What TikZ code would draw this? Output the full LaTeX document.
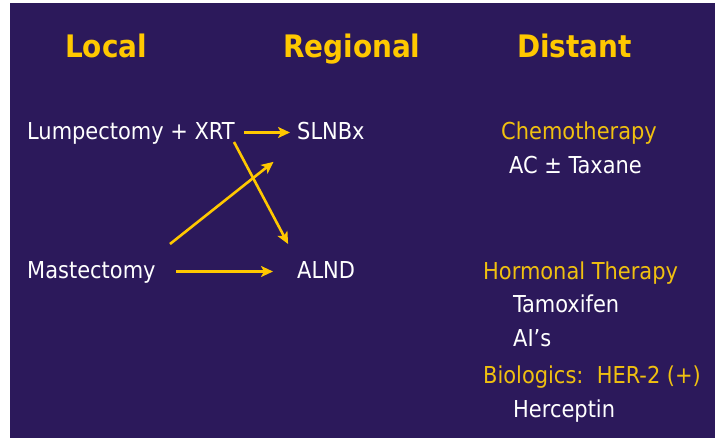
\documentclass[tikz,border=0pt]{standalone}
\usepackage{fontspec}
\setmainfont{DejaVu Sans Condensed}
\newfontfamily\headfont{DejaVu Sans Condensed Bold}
\usetikzlibrary{arrows.meta}
\definecolor{slidebg}{HTML}{2C195B}
\definecolor{slidegold}{HTML}{FFC800}
\definecolor{textgold}{HTML}{F0C010}
\tikzset{
	headtext/.style={anchor=base west, inner sep=0pt, font=\headfont\fontsize{31}{31}\selectfont, text=slidegold},
	bodytext/.style={anchor=base west, inner sep=0pt, text height=17pt, text depth=4pt, font=\fontsize{23.3}{23.3}\selectfont, text=white},
	goldtext/.style={bodytext, text=textgold},
	arr/.style={-{Stealth[length=12pt,width=11pt,inset=3pt]}, line width=2.6pt, draw=slidegold}
}

\begin{document}
\begin{tikzpicture}[x=1pt,y=-1pt]
      \useasboundingbox (0,0) rectangle (716,439);
      \fill[white] (0,0) rectangle (716,439);
      \fill[slidebg] (10,3) rectangle (715,438);
      % column heads
      \node[headtext] (local) at (65,57) {Local};
      \node[headtext] (regional) at (283,57) {Regional};
      \node[headtext] (distant) at (517,57) {Distant};
      % local and regional
      \node[bodytext] (lump) at (27,139) {Lumpectomy + XRT};
      \node[bodytext] (slnb) at (297,139) {SLNBx};
      \node[bodytext] (mast) at (27,278) {Mastectomy};
      \node[bodytext] (alnd) at (297,278) {ALND};
      % distant
      \node[goldtext] (chemo) at (501,139) {Chemotherapy};
      \node[bodytext] (actax) at (509,173) {AC ± Taxane};
      \node[goldtext] (hormo) at (483,279) {Hormonal Therapy};
      \node[bodytext] (tamox) at (513,312) {Tamoxifen};
      \node[bodytext] (ais) at (513,346) {AI’s};
      \node[goldtext] (biolog) at (483,383) {Biologics:\ \ HER-2 (+)};
      \node[bodytext] (hercep) at (513,417) {Herceptin};
      % arrows
      \coordinate (xrtfoot) at (234,142);
      \coordinate (mastrise) at (170,244);
      \draw[arr, shorten <=9pt, shorten >=7pt] (lump.east) -- (slnb.west);
      \draw[arr, shorten >=19pt] (xrtfoot) -- (alnd.north west);
      \draw[arr, shorten >=30pt] (mastrise) -- (slnb.south west);
      \draw[arr, shorten <=20pt, shorten >=24pt] (mast.east |- alnd.west) -- (alnd.west);
\end{tikzpicture}
\end{document}
